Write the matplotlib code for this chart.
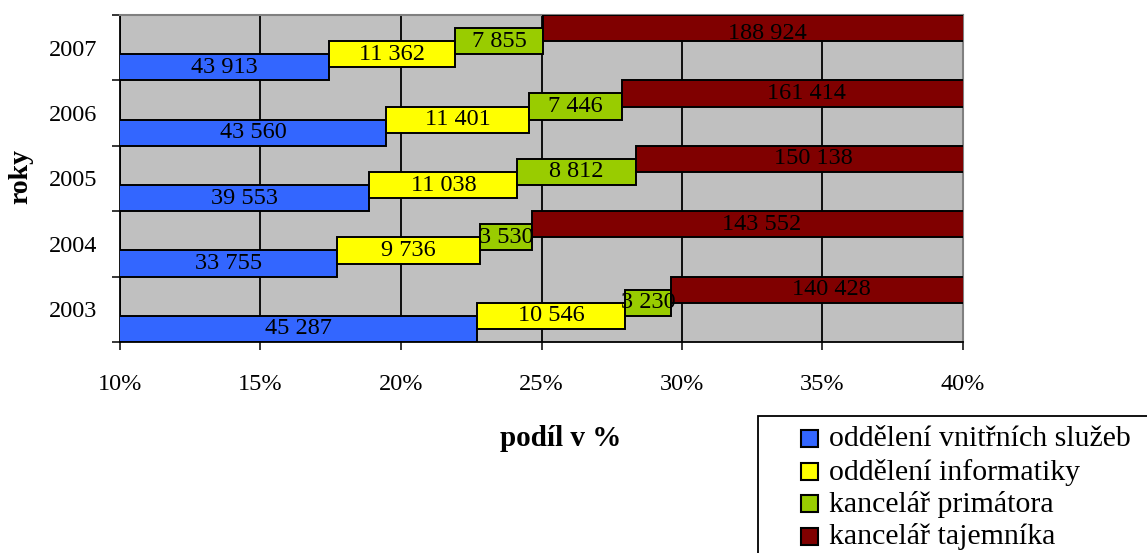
import matplotlib
matplotlib.use('Agg')
import matplotlib.pyplot as plt
from matplotlib.patches import Rectangle
import numpy as np

# ---- data ----
years = ['2003', '2004', '2005', '2006', '2007']
series_names = ['oddělení vnitřních služeb', 'oddělení informatiky',
                'kancelář primátora', 'kancelář tajemníka']
vnitrni = [45287, 33755, 39553, 43560, 43913]
informatika = [10546, 9736, 11038, 11401, 11362]
primator = [3230, 3530, 8812, 7446, 7855]
tajemnik = [140428, 143552, 150138, 161414, 188924]
x_ticks = [10, 15, 20, 25, 30, 35, 40]
x_title = 'podíl v %'
y_title = 'roky'

colors = ['#3366FF', '#FFFF00', '#99CC00', '#800000']

plt.rcParams['font.family'] = ['Liberation Serif', 'DejaVu Serif']

W, H = 1147, 553
fig = plt.figure(figsize=(W / 100, H / 100), dpi=100)
fig.patch.set_facecolor('white')


def fx(px):
    return px / W


def fy(py):
    return 1 - py / H


ax = fig.add_axes([fx(120), fy(342), 843 / W, 327 / H])
ax.set_facecolor('#C0C0C0')
ax.set_xlim(10, 40)
ax.set_ylim(0, 5)

data = np.array([vnitrni, informatika, primator, tajemnik], dtype=float)
pct = data / data.sum(axis=0) * 100
lefts = np.vstack([np.zeros(len(years)), np.cumsum(pct, axis=0)[:-1]])
bar_h = 0.4
step = 0.2
ypos = np.arange(len(years))
label_fs = 17.5

for k in range(4):
    bottoms = ypos + step * k
    ax.barh(bottoms, pct[k], left=lefts[k], height=bar_h, align='edge',
            color=colors[k], edgecolor='black', linewidth=1.4, zorder=3)
    for i in range(len(years)):
        lo = max(lefts[k, i], 10)
        hi = min(lefts[k, i] + pct[k, i], 41)
        yc = min(bottoms[i] + bar_h / 2, 5 - 0.29)
        txt = f"{int(data[k, i]):,}".replace(',', ' ')
        ax.text((lo + hi) / 2, yc, txt, ha='center', va='center',
                fontsize=label_fs, color='black', zorder=5)

ax.set_axisbelow(True)
ax.grid(axis='x', color='black', linewidth=1.3)
ax.grid(axis='y', visible=False)

for s in ['left', 'bottom']:
    ax.spines[s].set_color('black')
    ax.spines[s].set_linewidth(1.3)
for s in ['top', 'right']:
    ax.spines[s].set_color('#808080')
    ax.spines[s].set_linewidth(1.5)

ax.set_xticks(x_ticks)
ax.set_xticklabels([f'{t}%' for t in x_ticks])
ax.tick_params(axis='x', direction='out', length=5.8, width=1.1, pad=17.5,
               labelsize=17.5, colors='black')
ax.set_yticks(ypos + 0.5)
ax.set_yticklabels(years)
ax.tick_params(axis='y', which='major', length=0, pad=16.5, labelsize=17.5)
ax.set_yticks(np.arange(len(years) + 1), minor=True)
ax.tick_params(axis='y', which='minor', direction='out', length=5.8, width=1.1)

fig.text(fx(561), fy(438), x_title, ha='center', va='center',
         fontsize=21, fontweight='bold')
fig.text(fx(20.5), fy(177), y_title, ha='center', va='center',
         fontsize=20, fontweight='bold', rotation=90)

# legend (partly cut by figure edge, as in the original)
fig.patches.append(Rectangle((fx(758), fy(580)), (1170 - 758) / W, (580 - 416) / H,
                             transform=fig.transFigure, fill=False,
                             edgecolor='black', linewidth=1.3))
row0, row_step = 438.5, 32.5
for k, name in enumerate(series_names):
    yc = row0 + k * row_step
    fig.patches.append(Rectangle((fx(801), fy(yc + 8.5)), 17 / W, 17 / H,
                                 transform=fig.transFigure, facecolor=colors[k],
                                 edgecolor='black', linewidth=1.5))
    fig.text(fx(829), fy(yc + 1), name, ha='left', va='center', fontsize=21.5)

fig.savefig('out.png', dpi=100)
